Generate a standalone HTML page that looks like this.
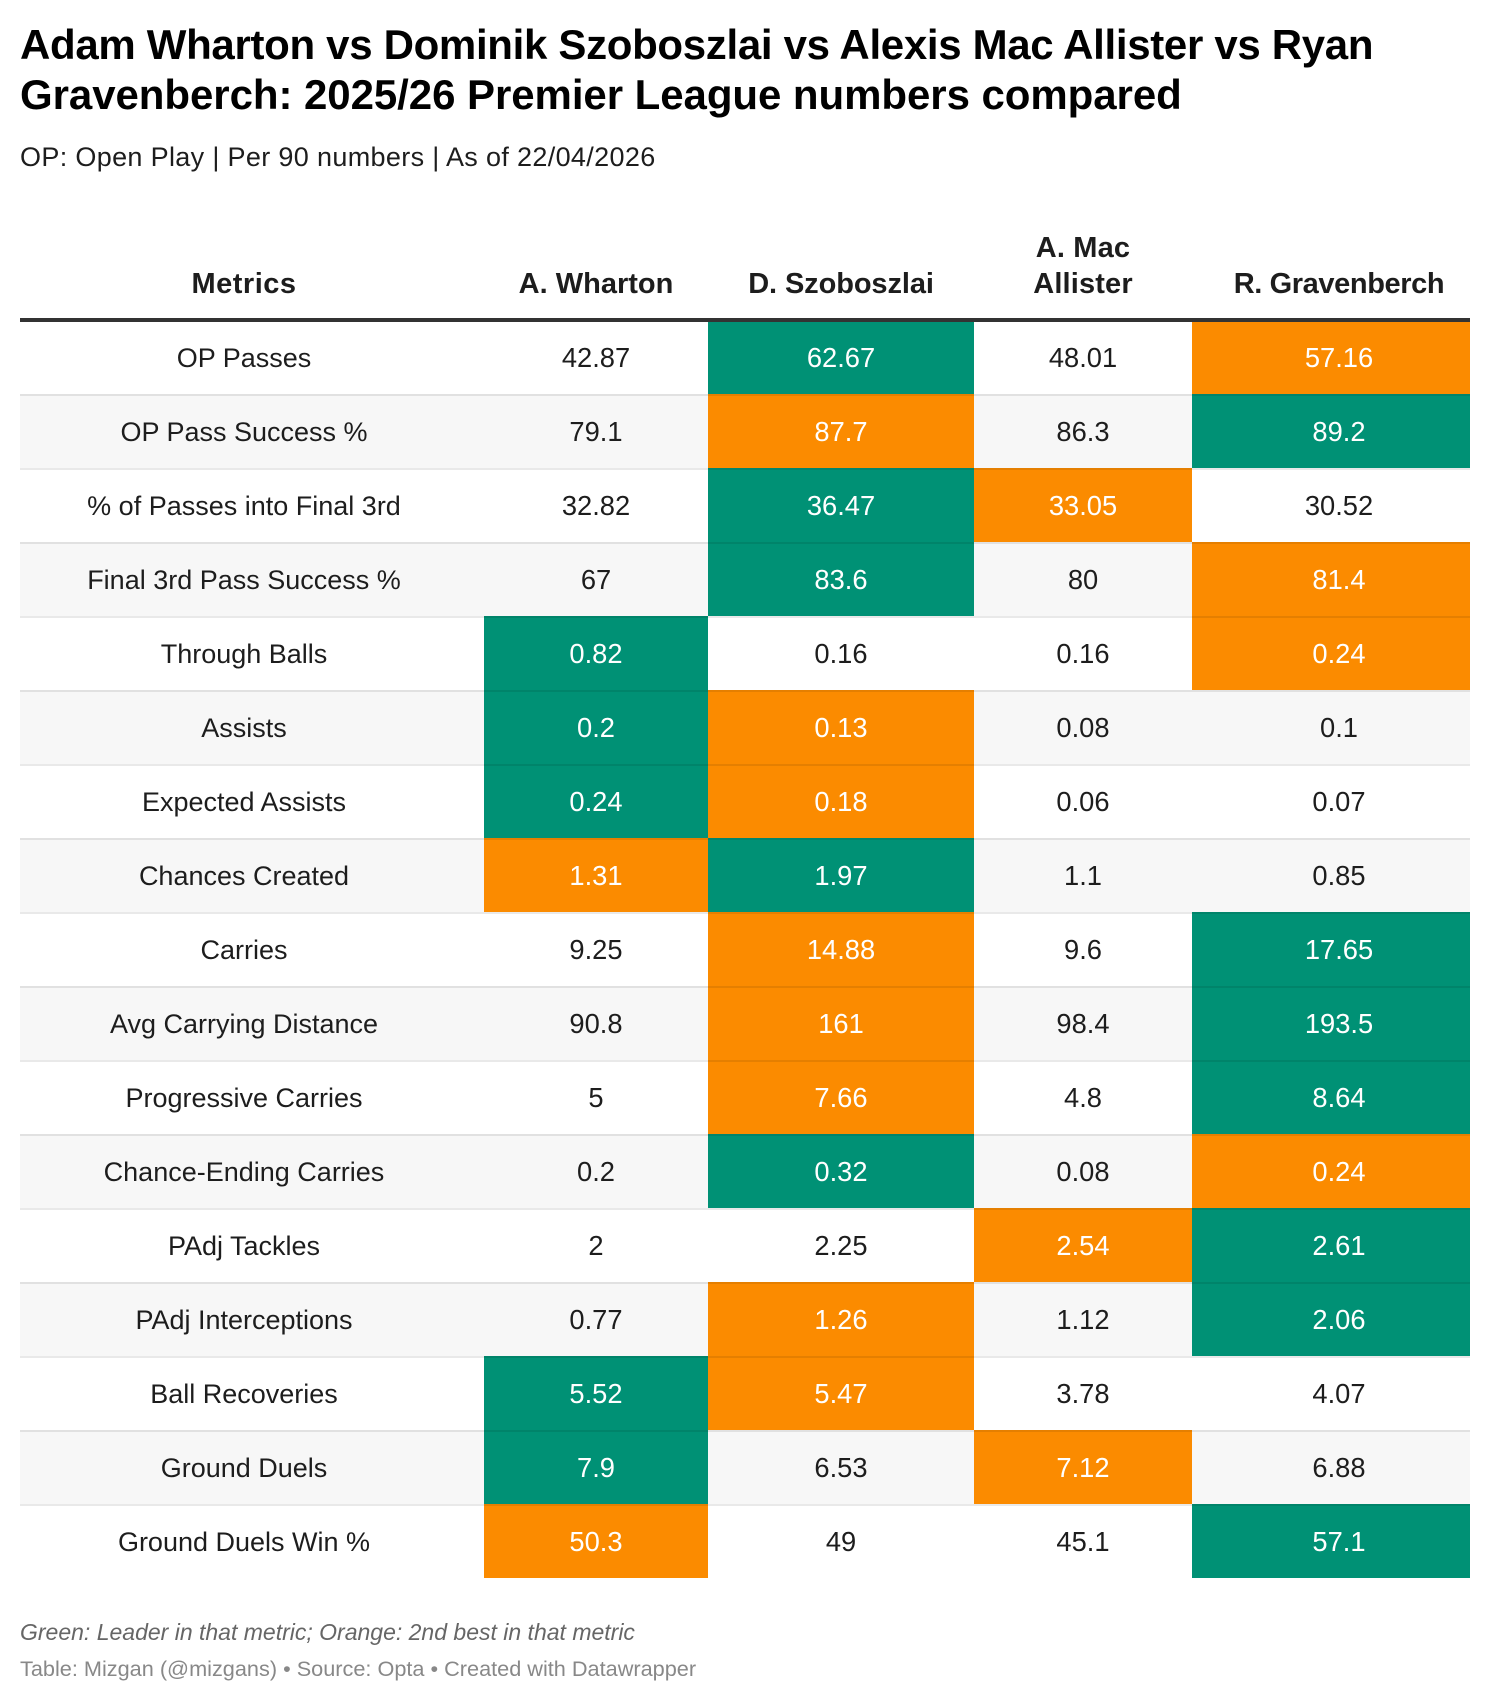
<!DOCTYPE html>
<html lang="en">
<head>
<meta charset="utf-8">
<title>Premier League midfielders compared</title>
<style>
html,body{margin:0;padding:0;background:#fff;}
#page{position:relative;width:1490px;height:1702px;overflow:hidden;background:#fff;font-family:"Liberation Sans",sans-serif;color:#1d1d1d;}
.ln{position:absolute;left:20px;white-space:nowrap;transform-origin:0 50%;}
.title{font-size:42px;line-height:50px;height:50px;font-weight:700;color:#000;}
.cell,.head{position:absolute;display:flex;align-items:center;justify-content:center;text-align:center;white-space:nowrap;box-sizing:border-box;}
.cell{font-size:27px;}
.cell.val{font-size:27.3px;}
.head{font-size:29px;font-weight:700;line-height:36px;align-items:flex-end;}
.line{position:absolute;left:20px;width:1450px;height:2px;background:rgba(0,0,0,.085);}
</style>
</head>
<body>
<div id="page">
  <div class="ln title" style="top:20px;letter-spacing:-0.32px">Adam Wharton vs Dominik Szoboszlai vs Alexis Mac Allister vs Ryan</div>
  <div class="ln title" style="top:70px;letter-spacing:-0.06px">Gravenberch: 2025/26 Premier League numbers compared</div>
  <div class="ln" style="top:140px;font-size:27px;letter-spacing:0.34px;line-height:34px;color:#1d1d1d">OP: Open Play | Per 90 numbers | As of 22/04/2026</div>
  <div id="table"></div>
  <div class="ln" style="top:1617px;font-size:23px;line-height:30px;font-style:italic;color:#666">Green: Leader in that metric; Orange: 2nd best in that metric</div>
  <div class="ln" style="top:1655px;font-size:21.7px;line-height:28px;color:#888">Table: Mizgan (@mizgans) • Source: Opta • Created with Datawrapper</div>
</div>
<script>
const metrics = ["OP Passes","OP Pass Success %","% of Passes into Final 3rd","Final 3rd Pass Success %","Through Balls","Assists","Expected Assists","Chances Created","Carries","Avg Carrying Distance","Progressive Carries","Chance-Ending Carries","PAdj Tackles","PAdj Interceptions","Ball Recoveries","Ground Duels","Ground Duels Win %"];
const wharton = [42.87,79.1,32.82,67,0.82,0.2,0.24,1.31,9.25,90.8,5,0.2,2,0.77,5.52,7.9,50.3];
const szoboszlai = [62.67,87.7,36.47,83.6,0.16,0.13,0.18,1.97,14.88,161,7.66,0.32,2.25,1.26,5.47,6.53,49];
const macAllister = [48.01,86.3,33.05,80,0.16,0.08,0.06,1.1,9.6,98.4,4.8,0.08,2.54,1.12,3.78,7.12,45.1];
const gravenberch = [57.16,89.2,30.52,81.4,0.24,0.1,0.07,0.85,17.65,193.5,8.64,0.24,2.61,2.06,4.07,6.88,57.1];
const headers = ["Metrics","A. Wharton","D. Szoboszlai","A. Mac<br>Allister","R. Gravenberch"];

const series = [wharton, szoboszlai, macAllister, gravenberch];
const colEdges = [20,484,708,974,1192,1470];
const colPadLeft = [0,0,0,0,16];
const colPadRight = [16,0,0,0,0];
const headerTracking = [0.5,0,-0.1,0.15,-0.39];
const GREEN = "#009175", ORANGE = "#fb8b00";
const root = document.getElementById("table");
function rowTop(i){ return i === 0 ? 322 : 394 + 74 * (i - 1); }
function rowBottom(i){ return 394 + 74 * i; }
function colLeft(c){ return colEdges[c]; }
function colWidth(c){ return colEdges[c + 1] - colEdges[c]; }

headers.forEach(function(h, c){
  const el = document.createElement("div");
  el.className = "head";
  el.style.left = colLeft(c) + "px";
  el.style.width = colWidth(c) + "px";
  el.style.top = "220px";
  el.style.height = "82px";
  el.style.paddingLeft = colPadLeft[c] + "px";
  el.style.paddingRight = colPadRight[c] + "px";
  el.style.letterSpacing = headerTracking[c] + "px";
  el.innerHTML = h;
  
  
  root.appendChild(el);
});

const rule = document.createElement("div");
rule.style.cssText = "position:absolute;left:20px;width:1450px;top:318px;height:4px;background:#333";


root.appendChild(rule);

metrics.forEach(function(m, i){
  const top = rowTop(i), bottom = rowBottom(i);
  const bg = document.createElement("div");
  bg.style.cssText = "position:absolute;left:20px;width:1450px;top:" + top + "px;height:" + (bottom - top) + "px;background:" + (i % 2 ? "#f7f7f7" : "#fff");
  
  
  root.appendChild(bg);

  const offset = i === 0 ? 0 : 2;
  const label = document.createElement("div");
  label.className = "cell";
  label.style.left = colLeft(0) + "px";
  label.style.width = colWidth(0) + "px";
  label.style.top = (top + offset) + "px";
  label.style.height = (bottom - top - offset) + "px";
  label.style.paddingRight = colPadRight[0] + "px";
  label.textContent = m;
  
  
  root.appendChild(label);

  const vals = series.map(function(s){ return s[i]; });
  const sorted = vals.slice().sort(function(a, b){ return b - a; });
  vals.forEach(function(v, c){
    const cell = document.createElement("div");
    cell.className = "cell val";
    cell.style.left = colLeft(c + 1) + "px";
    cell.style.width = colWidth(c + 1) + "px";
    cell.style.top = top + "px";
    cell.style.height = (bottom - top) + "px";
    cell.style.paddingTop = offset + "px";
    cell.style.paddingLeft = colPadLeft[c + 1] + "px";
    if (v === sorted[0]) { cell.style.background = GREEN; cell.style.color = "#fff"; }
    else if (v === sorted[1]) { cell.style.background = ORANGE; cell.style.color = "#fff"; }
    cell.textContent = String(v);
    
    
    root.appendChild(cell);
  });
});

for (let i = 1; i < metrics.length; i++) {
  const l = document.createElement("div");
  l.className = "line";
  l.style.top = rowTop(i) + "px";
  
  
  root.appendChild(l);
}
</script>
</body>
</html>
